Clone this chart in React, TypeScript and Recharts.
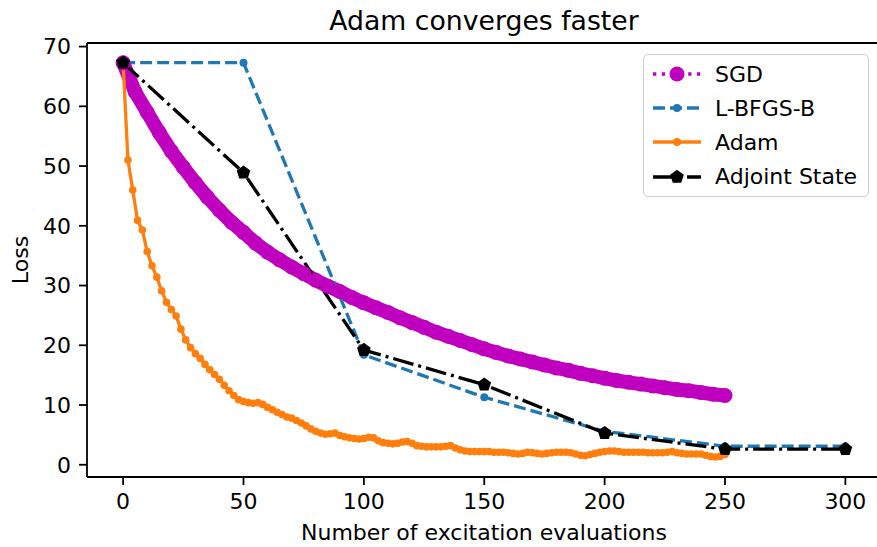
import React from 'react';
import { LineChart, Line, XAxis, YAxis, ReferenceLine } from 'recharts';

const sgdStep = 5;
const sgdLoss = [
  67.3, 62.4, 59.0, 55.6, 52.5, 49.8, 47.2, 44.8, 42.6, 40.6,
  38.9, 37.1, 35.6, 34.3, 33.1, 32.0, 30.9, 29.9, 29.0, 28.0,
  27.1, 26.3, 25.5, 24.6, 23.8, 23.0, 22.2, 21.5, 20.8, 20.1,
  19.4, 18.8, 18.2, 17.7, 17.2, 16.7, 16.2, 15.8, 15.3, 14.9,
  14.5, 14.1, 13.8, 13.5, 13.2, 12.9, 12.6, 12.4, 12.1, 11.8, 11.6,
];

const lbfgsEvals = [0, 50, 100, 150, 200, 250, 300];
const lbfgsLoss = [67.3, 67.3, 18.4, 11.3, 5.6, 3.1, 3.1];

const adamStep = 2;
const adamLoss = [
  67.3, 51.0, 46.0, 40.9, 39.3, 35.7, 33.3, 31.4, 29.1, 27.2,
  26.0, 24.9, 22.7, 20.9, 19.6, 18.6, 17.8, 16.8, 15.9, 15.1,
  14.3, 13.3, 12.4, 11.6, 10.9, 10.6, 10.4, 10.3, 10.4, 10.1,
  9.6, 9.2, 8.8, 8.4, 8.0, 7.8, 7.4, 7.0, 6.5, 6.0,
  5.6, 5.3, 5.1, 5.2, 5.3, 4.9, 4.7, 4.5, 4.4, 4.3,
  4.4, 4.6, 4.5, 4.0, 3.7, 3.6, 3.5, 3.6, 3.8, 3.9,
  3.6, 3.2, 3.1, 3.0, 3.0, 3.0, 3.0, 3.1, 3.2, 2.8,
  2.5, 2.3, 2.2, 2.2, 2.2, 2.2, 2.2, 2.1, 2.1, 2.1,
  2.0, 1.9, 1.8, 1.9, 2.1, 2.0, 1.9, 1.8, 1.9, 2.0,
  2.1, 2.1, 2.1, 2.0, 1.8, 1.6, 1.5, 1.7, 1.9, 2.1,
  2.2, 2.3, 2.3, 2.2, 2.1, 2.1, 2.1, 2.1, 2.1, 2.0,
  2.0, 2.0, 2.0, 2.1, 2.2, 2.0, 1.9, 1.8, 1.8, 1.8,
  1.8, 1.6, 1.4, 1.3, 1.4, 1.7,
];

const adjointEvals = [0, 50, 100, 150, 200, 250, 300];
const adjointLoss = [67.3, 48.9, 19.2, 13.4, 5.3, 2.6, 2.6];

const xTicks = [0, 50, 100, 150, 200, 250, 300];
const yTicks = [0, 10, 20, 30, 40, 50, 60, 70];

const sgdData = sgdLoss.map((loss, i) => ({ x: i * sgdStep, loss }));
const lbfgsData = lbfgsEvals.map((x, i) => ({ x, loss: lbfgsLoss[i] }));
const adamData = adamLoss.map((loss, i) => ({ x: i * adamStep, loss }));
const adjointData = adjointEvals.map((x, i) => ({ x, loss: adjointLoss[i] }));

const FONT = '"DejaVu Sans", Verdana, sans-serif';
const MAGENTA = '#bf00bf';
const BLUE = '#1f77b4';
const ORANGE = '#ff7f0e';

const pentagonPoints = (cx: number, cy: number, r: number) =>
  [0, 1, 2, 3, 4]
    .map((k) => {
      const a = -Math.PI / 2 + (k * 2 * Math.PI) / 5;
      return `${cx + r * Math.cos(a)},${cy + r * Math.sin(a)}`;
    })
    .join(' ');

const PentagonDot = (props: any) => {
  const { cx, cy, index } = props;
  if (cx == null || cy == null) return <g key={`pd-${index}`} />;
  return <polygon key={`pd-${index}`} points={pentagonPoints(cx, cy, 7.2)} fill="#000" />;
};

const legendRows = [
  { name: 'SGD', color: MAGENTA, dash: '3.3 5.5', marker: 'big' },
  { name: 'L-BFGS-B', color: BLUE, dash: '12 5', marker: 'small' },
  { name: 'Adam', color: ORANGE, dash: undefined, marker: 'small' },
  { name: 'Adjoint State', color: '#000', dash: '21 5 3 5', marker: 'pentagon' },
];

const LegendBox = () => (
  <div
    style={{
      position: 'absolute',
      left: 643,
      top: 54,
      width: 226,
      height: 143,
      boxSizing: 'border-box',
      border: '1.5px solid #cccccc',
      borderRadius: 5,
      background: 'rgba(255,255,255,0.8)',
      paddingTop: 2,
      fontFamily: FONT,
      fontSize: 22,
      color: '#000',
    }}
  >
    {legendRows.map((row) => (
      <div key={row.name} style={{ height: 34.2, display: 'flex', alignItems: 'center' }}>
        <svg width={64} height={24} style={{ marginLeft: 7, flex: 'none' }}>
          <line
            x1={2}
            x2={50}
            y1={12}
            y2={12}
            stroke={row.color}
            strokeWidth={3.3}
            strokeDasharray={row.dash}
          />
          {row.marker === 'big' && <circle cx={26} cy={12} r={7.5} fill={row.color} />}
          {row.marker === 'small' && <circle cx={26} cy={12} r={4} fill={row.color} />}
          {row.marker === 'pentagon' && <polygon points={pentagonPoints(26, 12, 7.2)} fill="#000" />}
        </svg>
        <span style={{ marginLeft: 0, whiteSpace: 'nowrap' }}>{row.name}</span>
      </div>
    ))}
  </div>
);

const App: React.FC = () => {
  const tickStyle = { fill: '#000', fontSize: 22, fontFamily: FONT };
  return (
    <div
      style={{
        position: 'absolute',
        left: 0,
        top: 0,
        width: 877,
        height: 547,
        overflow: 'hidden',
        background: '#fff',
      }}
    >
      <LineChart
        width={890}
        height={547}
        margin={{ top: 43, right: 8.5, left: 37, bottom: 30 }}
      >
        <XAxis
          type="number"
          dataKey="x"
          domain={[-15, 315]}
          ticks={xTicks}
          allowDataOverflow
          height={40}
          tick={tickStyle}
          tickSize={8}
          tickMargin={8}
          axisLine={{ stroke: '#000', strokeWidth: 1.8 }}
          tickLine={{ stroke: '#000', strokeWidth: 1.8 }}
        />
        <YAxis
          type="number"
          domain={[-2.05, 70.6]}
          ticks={yTicks}
          allowDataOverflow
          width={50}
          tick={tickStyle}
          tickSize={8}
          tickMargin={8}
          axisLine={{ stroke: '#000', strokeWidth: 1.8 }}
          tickLine={{ stroke: '#000', strokeWidth: 1.8 }}
        />
        <ReferenceLine y={70.6} stroke="#000" strokeWidth={1.8} ifOverflow="visible" />
        <ReferenceLine x={315} stroke="#000" strokeWidth={1.8} ifOverflow="visible" />
        <Line
          data={sgdData}
          dataKey="loss"
          type="linear"
          stroke={MAGENTA}
          strokeWidth={14}
          strokeLinecap="round"
          strokeLinejoin="round"
          dot={{ r: 7.5, fill: MAGENTA, stroke: MAGENTA, strokeWidth: 0 }}
          activeDot={false}
          isAnimationActive={false}
        />
        <Line
          data={lbfgsData}
          dataKey="loss"
          type="linear"
          stroke={BLUE}
          strokeWidth={3.3}
          strokeDasharray="12 5"
          dot={{ r: 4, fill: BLUE, stroke: BLUE, strokeWidth: 0, strokeDasharray: '' }}
          activeDot={false}
          isAnimationActive={false}
        />
        <Line
          data={adamData}
          dataKey="loss"
          type="linear"
          stroke={ORANGE}
          strokeWidth={3.3}
          dot={{ r: 3.8, fill: ORANGE, stroke: ORANGE, strokeWidth: 0 }}
          activeDot={false}
          isAnimationActive={false}
        />
        <Line
          data={adjointData}
          dataKey="loss"
          type="linear"
          stroke="#000"
          strokeWidth={3.3}
          strokeDasharray="21 5 3 5"
          dot={PentagonDot}
          activeDot={false}
          isAnimationActive={false}
        />
      </LineChart>
      <svg
        width={877}
        height={547}
        style={{ position: 'absolute', left: 0, top: 0, pointerEvents: 'none' }}
      >
        <text x={484} y={29.7} textAnchor="middle" fontFamily={FONT} fontSize={26.7} fill="#000">
          Adam converges faster
        </text>
        <text x={484} y={540} textAnchor="middle" fontFamily={FONT} fontSize={22} fill="#000">
          Number of excitation evaluations
        </text>
        <text
          x={28}
          y={260}
          textAnchor="middle"
          fontFamily={FONT}
          fontSize={22}
          fill="#000"
          transform="rotate(-90 28 260)"
        >
          Loss
        </text>
      </svg>
      <LegendBox />
    </div>
  );
};

export default App;
